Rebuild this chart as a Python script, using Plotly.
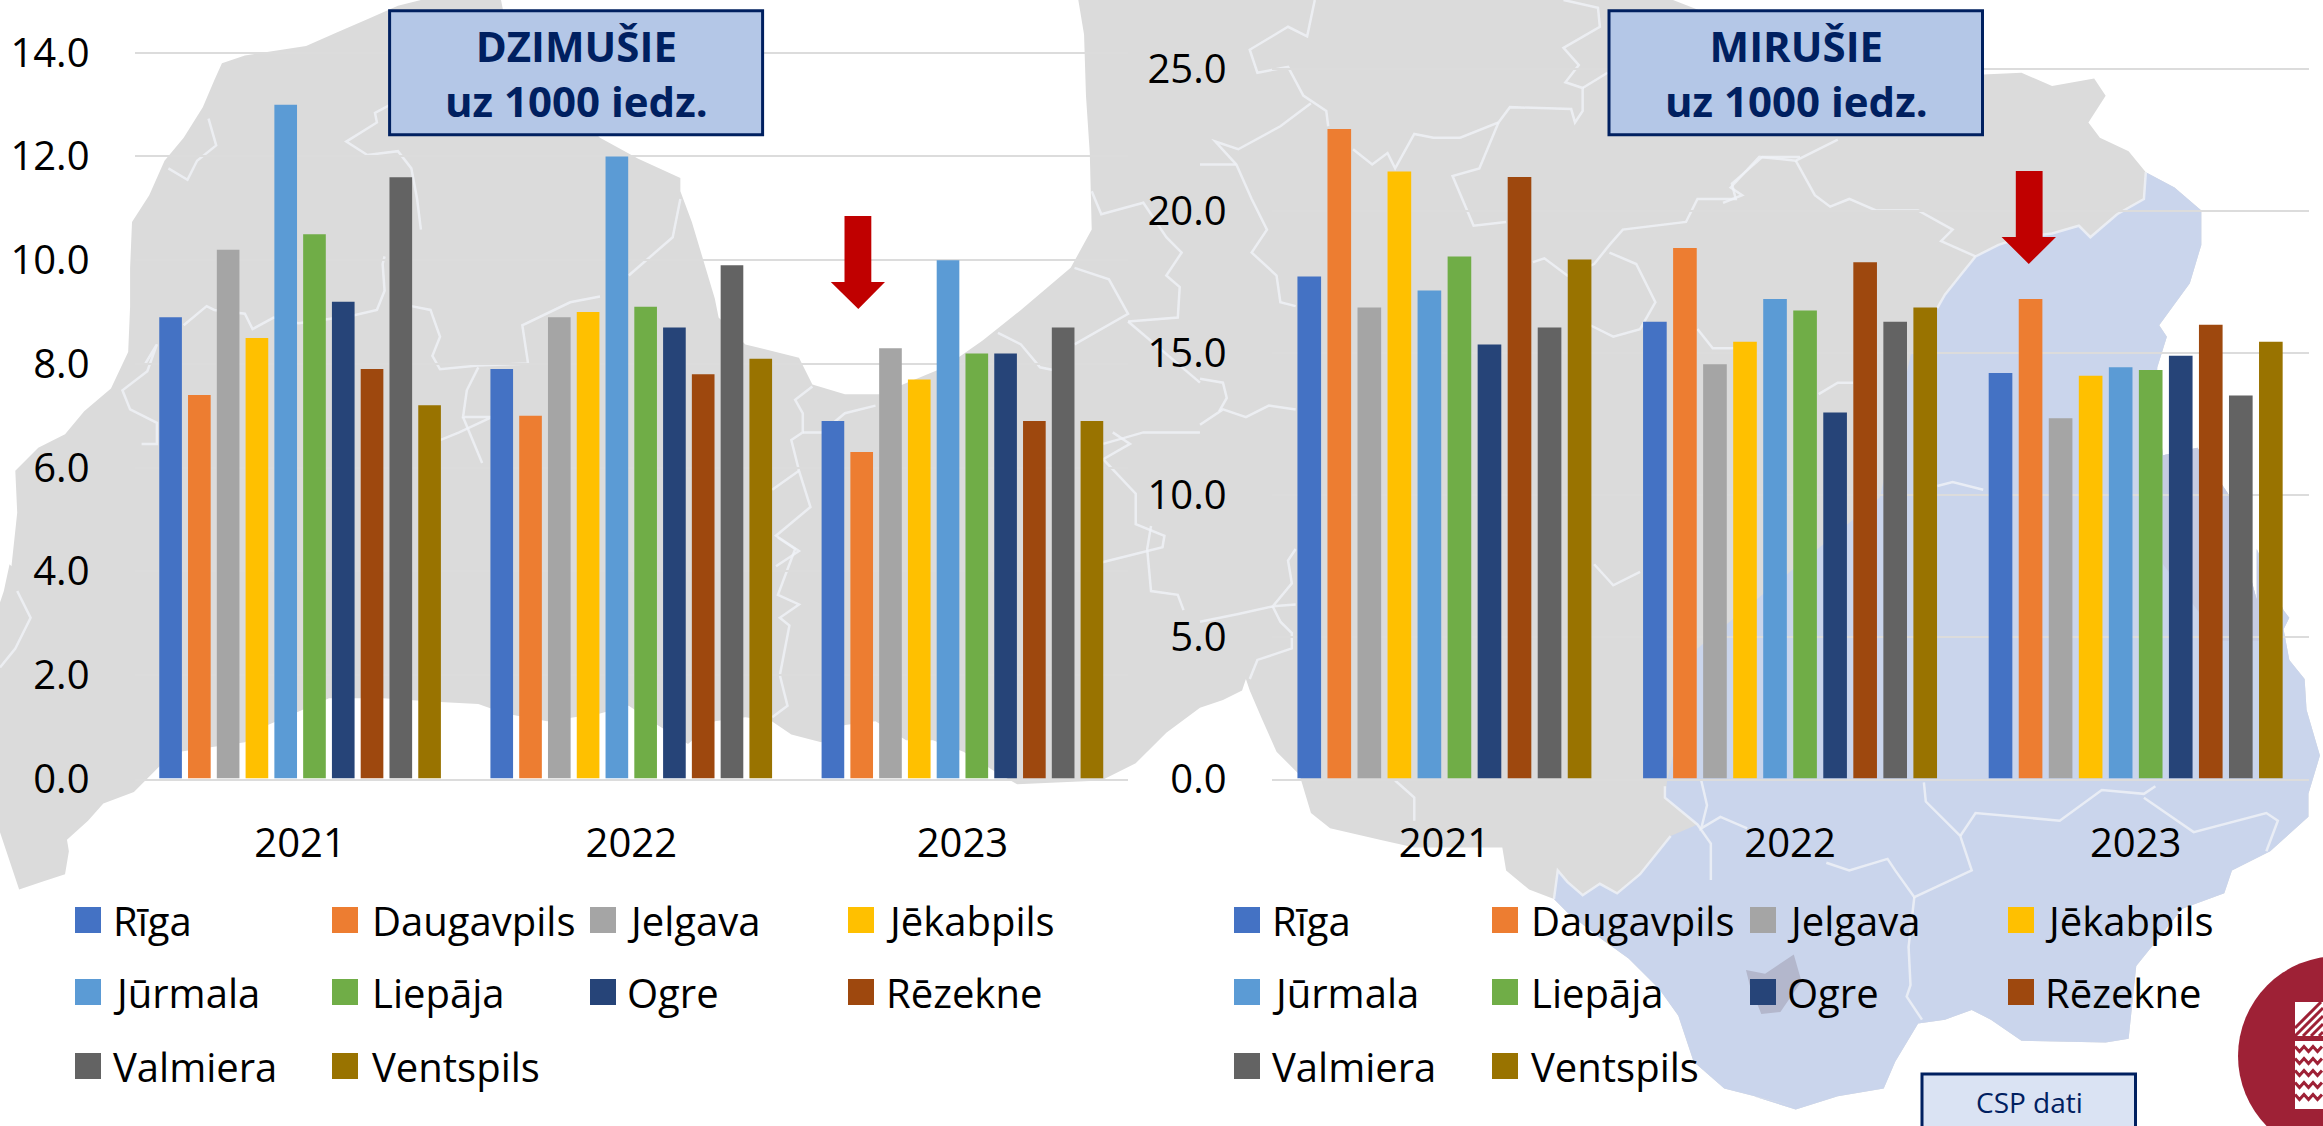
import plotly.graph_objects as go

W, H = 2323, 1126

# ---------- data ----------
cities = ["Rīga", "Daugavpils", "Jelgava", "Jēkabpils", "Jūrmala", "Liepāja", "Ogre", "Rēzekne", "Valmiera", "Ventspils"]
colors = ["#4472C4", "#ED7D31", "#A5A5A5", "#FFC000", "#5B9BD5", "#70AD47", "#264478", "#9E480E", "#636363", "#997300"]
years = ["2021", "2022", "2023"]

born_2021 = [8.9, 7.4, 10.2, 8.5, 13.0, 10.5, 9.2, 7.9, 11.6, 7.2]
born_2022 = [7.9, 7.0, 8.9, 9.0, 12.0, 9.1, 8.7, 7.8, 9.9, 8.1]
born_2023 = [6.9, 6.3, 8.3, 7.7, 10.0, 8.2, 8.2, 6.9, 8.7, 6.9]

died_2021 = [17.7, 22.9, 16.6, 21.4, 17.2, 18.4, 15.3, 21.2, 15.9, 18.3]
died_2022 = [16.1, 18.7, 14.6, 15.4, 16.9, 16.5, 12.9, 18.2, 16.1, 16.6]
died_2023 = [14.3, 16.9, 12.7, 14.2, 14.5, 14.4, 14.9, 16.0, 13.5, 15.4]

title_left = "DZIMUŠIE<br>uz 1000 iedz."
title_right = "MIRUŠIE<br>uz 1000 iedz."
source_label = "CSP dati"

FONT = "Open Sans"
NAVY = "#002060"


# ---------- helpers for decoration in pixel space ----------
def px(x, y):
    return x / W, 1 - y / H


def path(points, close=True):
    parts = []
    for i, (x, y) in enumerate(points):
        fx, fy = px(x, y)
        parts.append(f"{'M' if i == 0 else 'L'}{fx:.5f},{fy:.5f}")
    return " ".join(parts) + (" Z" if close else "")


def poly(points, fill, layer="below"):
    return dict(type="path", xref="paper", yref="paper", path=path(points),
                fillcolor=fill, line=dict(width=0), layer=layer)


def rect(x0, y0, x1, y1, fill, line=None, lw=0, layer="above"):
    fx0, fy0 = px(x0, y0)
    fx1, fy1 = px(x1, y1)
    return dict(type="rect", xref="paper", yref="paper", x0=fx0, y0=fy0, x1=fx1, y1=fy1,
                fillcolor=fill, line=dict(color=line or fill, width=lw), layer=layer)


S = 600 / 1568


def z(ox, oy, pts):
    return [(ox + a * S, oy + b * S) for a, b in pts]


C5, C6, C7, C8 = (0, 0), (0, 526), (600, 0), (600, 526)
C9, C10, C11, C12 = (1200, 0), (1200, 526), (1723, 0), (1723, 526)

east_coast = z(*C12, [(80, 1490), (190, 1525), (300, 1490), (420, 1470), (450, 1400), (510, 1300), (580, 1290),
                      (650, 1265), (700, 1290), (780, 1345), (1000, 1350), (1060, 1340), (1080, 1150), (1120, 1100),
                      (1200, 1000), (1310, 960), (1330, 900), (1430, 850), (1530, 760), (1530, 700), (1560, 600),
                      (1525, 480), (1520, 400), (1480, 350), (1465, 270), (1480, 240), (1465, 220), (1395, 60)])
east_upper = z(*C11, [(1395, 1568), (1320, 1290), (1240, 1170), (1150, 1190), (1130, 1050), (1135, 960), (1160, 880),
                      (1140, 850), (1220, 740), (1250, 640), (1250, 550), (1180, 490), (1105, 450)])
south_coast = z(*C10, [(925, 975), (960, 1010), (1050, 1080), (1120, 1130), (1200, 1210), (1250, 1280), (1290, 1400),
                       (1370, 1470), (1450, 1490), (1568, 1520)])

land = (
    z(*C5, [(1100, 0), (1040, 15), (960, 50), (880, 85), (800, 120), (640, 145), (580, 165), (560, 210), (530, 280),
            (480, 360), (430, 420), (390, 510), (345, 580), (340, 700), (340, 800), (335, 920), (290, 1015),
            (220, 1075), (170, 1135), (100, 1170), (40, 1230), (45, 1340), (30, 1480)])
    + z(*C6, [(25, 100), (10, 170), (0, 200), (0, 800), (50, 950), (110, 930), (170, 910), (180, 850), (175, 820),
              (230, 770), (270, 725), (350, 695), (415, 630), (470, 590), (640, 565), (700, 520), (860, 450),
              (1000, 450), (1150, 460), (1250, 465), (1320, 490), (1430, 510), (1568, 490)])
    + z(*C8, [(75, 470), (150, 520), (230, 570), (300, 510), (380, 500), (449, 510), (500, 545), (578, 565),
              (640, 520), (720, 510), (800, 560), (870, 560), (950, 590), (1030, 640), (1090, 675), (1310, 665),
              (1400, 620), (1480, 540), (1568, 475)])
    + z(*C10, [(60, 455), (110, 430), (120, 400), (130, 430), (160, 500), (200, 590), (260, 650), (290, 750),
               (340, 790), (470, 820), (560, 840), (790, 840), (800, 900), (860, 950)])
    + south_coast + east_coast + east_upper
    + z(*C11, [(1060, 395), (985, 360), (955, 320), (1000, 250), (970, 205), (860, 225), (780, 190), (680, 195)])
    + [(1850, 70), (1750, 30), (1673, 0)]
    + z(*C7, [(1250, 0), (1265, 90), (1270, 250), (1280, 400), (1285, 600), (1230, 700), (1100, 810), (1000, 890),
              (900, 960), (730, 1030), (640, 1030), (555, 1005), (520, 935), (380, 900), (310, 830), (300, 780),
              (270, 680), (240, 580), (210, 500), (210, 465), (100, 415), (0, 360)])
    + [(560, 100), (505, 20), (501, 0)]
)

border_blue_a = z(*C10, [(925, 975), (935, 900), (960, 930), (1000, 965), (1045, 935), (1090, 960), (1150, 910),
                         (1230, 810), (1300, 780), (1215, 710), (1220, 670), (1300, 320)])
border_blue_b = z(*C11, [(410, 1300), (490, 930), (560, 805), (580, 770), (620, 720), (660, 670), (720, 640),
                         (780, 620), (860, 610), (930, 590), (960, 620), (1030, 560), (1100, 520), (1105, 450)])
blue = (list(reversed(east_upper)) + list(reversed(east_coast)) + list(reversed(south_coast))
        + border_blue_a[1:] + border_blue_b)

patch = z(*C11, [(1150, 1190), (1240, 1170), (1320, 1290), (1395, 1568)]) + z(*C12, [(1395, 60), (1420, 300), (1300, 300), (1150, 100)])
ogre_area = z(*C12, [(60, 1160), (110, 1170), (185, 1120), (205, 1190), (150, 1270), (100, 1275), (70, 1200)])

borders = [
    z(*C5, [(545, 310), (565, 380), (515, 420), (490, 470), (440, 440)]),
    z(*C5, [(1018, 275), (980, 295), (985, 320), (905, 370), (960, 405), (1040, 395), (1075, 440), (1090, 520), (1100, 600)]),
    z(*C5, [(1005, 670), (1000, 690), (1005, 760), (985, 810), (920, 825), (780, 845), (715, 830), (660, 860), (640, 820), (560, 810), (540, 800), (480, 850)]),
    z(*C5, [(1075, 800), (1125, 810), (1150, 880), (1130, 930), (1150, 965), (1250, 955), (1380, 950), (1365, 850), (1490, 790), (1568, 775)]),
    z(*C5, [(1250, 960), (1220, 1020), (1210, 1090), (1285, 1090), (1200, 1130), (1150, 1150)]),
    z(*C5, [(1210, 1090), (1260, 1210)]),
    z(*C5, [(380, 950), (410, 900), (385, 970), (320, 1020), (340, 1070), (410, 1105), (410, 1160), (370, 1160)]),
    z(*C6, [(45, 170), (80, 240), (40, 320), (0, 370)]),
    z(*C7, [(210, 520), (190, 620), (75, 720)]),
    z(*C7, [(555, 1010), (510, 1045), (530, 1080), (530, 1130), (500, 1150), (520, 1230), (550, 1325), (460, 1400), (520, 1440), (460, 1480)]),
    z(*C8, [(465, 30), (510, 60), (465, 180), (520, 205), (470, 240), (495, 260), (470, 390), (490, 470), (450, 500)]),
    z(*C7, [(530, 1130), (580, 1130), (640, 1080), (720, 1060)]),
    z(*C7, [(450, 1280), (520, 1230)]),
    z(*C7, [(1040, 870), (1100, 900), (1150, 960), (1200, 970)]),
    z(*C7, [(1240, 700), (1330, 730), (1380, 820), (1240, 900)]),
    z(*C7, [(1380, 840), (1568, 1000)]),
    z(*C7, [(1285, 500), (1310, 560), (1420, 530), (1480, 620), (1520, 660), (1480, 720), (1515, 750), (1510, 830), (1380, 840)]),
    z(*C7, [(1315, 1160), (1420, 1130), (1568, 1130)]),
    z(*C7, [(1340, 1130), (1385, 1160), (1315, 1200), (1400, 1290), (1400, 1370), (1475, 1400), (1470, 1430), (1310, 1470)]),
    z(*C8, [(1440, 0), (1430, 60), (1440, 170), (1510, 180), (1525, 220)]),
    z(*C9, [(300, 0), (280, 95), (230, 70), (130, 130), (150, 190), (230, 175), (270, 250), (330, 290), (335, 330)]),
    z(*C9, [(290, 270), (210, 330), (100, 390), (40, 370), (95, 430), (135, 520), (175, 600), (135, 660), (200, 720), (210, 790), (250, 800)]),
    z(*C9, [(0, 430), (95, 430)]),
    z(*C9, [(400, 390), (450, 430), (490, 400), (510, 440), (560, 350), (610, 360), (680, 360), (780, 320), (810, 280), (970, 285), (980, 320), (1000, 290), (1000, 230), (955, 215), (990, 170), (950, 125), (1045, 70), (1040, 20), (950, 0)]),
    z(*C9, [(1000, 230), (1065, 190)]),
    z(*C9, [(780, 320), (730, 440), (660, 460), (715, 590), (800, 580)]),
    z(*C9, [(870, 685), (900, 675), (960, 720), (1030, 690), (1070, 640), (1105, 600), (1270, 580), (1300, 520), (1400, 520), (1390, 480), (1470, 410), (1568, 410)]),
    z(*C9, [(1070, 660), (1140, 690), (1190, 790), (1150, 860), (1080, 880), (1020, 850)]),
    z(*C9, [(1300, 860), (1340, 910), (1420, 910)]),
    z(*C9, [(0, 1110), (60, 1070), (120, 1090), (180, 1060), (250, 1070)]),
    z(*C9, [(0, 990), (60, 1000), (70, 1040), (50, 1075)]),
    z(*C10, [(250, 60), (230, 90), (240, 150), (190, 210), (250, 205)]),
    z(*C10, [(190, 210), (100, 230), (0, 250)]),
    z(*C10, [(190, 210), (210, 250), (240, 280), (240, 320), (150, 350), (130, 400)]),
    z(*C10, [(1030, 100), (1080, 155), (1150, 120)]),
    z(*C10, [(510, 665), (560, 710), (560, 770)]),
    z(*C10, [(1215, 680), (1215, 710), (1300, 780), (1335, 830), (1335, 925)]),
    z(*C10, [(1310, 665), (1325, 730), (1310, 790), (1360, 760), (1430, 790)]),
    z(*C11, [(0, 530), (50, 510), (20, 490), (95, 410), (190, 420), (300, 365)]),
    z(*C11, [(190, 420), (240, 510), (280, 540), (330, 520), (400, 550), (510, 550), (600, 600), (570, 630), (660, 670)]),
    z(*C11, [(250, 1030), (300, 1000), (340, 1000)]),
    z(*C11, [(560, 1270), (600, 1260), (680, 1280)]),
    z(*C12, [(525, 670), (530, 720), (620, 810), (650, 900), (500, 970), (450, 900), (430, 870), (330, 900), (270, 880)]),
    z(*C12, [(620, 810), (660, 750), (880, 770), (990, 690), (1100, 700), (1130, 680)]),
    z(*C12, [(1100, 710), (1230, 800), (1420, 750), (1450, 770), (1420, 850)]),
    z(*C12, [(500, 970), (485, 1100), (490, 1200), (480, 1230), (520, 1290)]),
    border_blue_a[:8],
    border_blue_b[2:],
]

shapes = [poly(land, "#DBDBDB"), poly(blue, "#CAD5EC"), poly(patch, "#C6CCE2"), poly(ogre_area, "#B3B7CC")]
for b in borders:
    shapes.append(dict(type="path", xref="paper", yref="paper", path=path(b, close=False),
                       line=dict(color="rgba(240,243,248,0.8)", width=2.5), layer="below"))

# ---------- title boxes, arrows, source box, logo ----------
shapes.append(rect(389.6, 10.7, 762.6, 134.7, "#B4C7E7", NAVY, 3))
shapes.append(rect(1609, 10.7, 1982.5, 134.7, "#B4C7E7", NAVY, 3))


def arrow(x0, x1, hx0, hx1, tipx, top, neck, tip):
    return poly([(x0, top), (x1, top), (x1, neck), (hx1, neck), (tipx, tip), (hx0, neck), (x0, neck)], "#C00000", "above")


shapes.append(arrow(844.5, 871.3, 830.8, 885, 858.3, 216, 282, 309))
shapes.append(arrow(2015.8, 2042.6, 2001.6, 2056, 2028.8, 171, 237, 264))
shapes.append(rect(1922, 1074, 2135.5, 1135, "#DAE3F3", NAVY, 3))

# logo: red disc with white hatch and wave blocks
fx0, fy0 = px(2238, 956)
fx1, fy1 = px(2438, 1156)
shapes.append(dict(type="circle", xref="paper", yref="paper", x0=fx0, y0=fy0, x1=fx1, y1=fy1,
                   fillcolor="#9E2136", line=dict(width=0), layer="above"))
shapes.append(rect(2295, 1002, 2323, 1036, "#FFFFFF"))
for i in range(-1, 7):
    sx = 2295 + i * 8
    shapes.append(dict(type="path", xref="paper", yref="paper", layer="above",
                       path=path([(max(sx, 2295), 1036 - max(2295 - sx, 0)), (min(sx + 34, 2323), 1002 + max(sx + 34 - 2323, 0))], close=False),
                       line=dict(color="#9E2136", width=3)))
shapes.append(rect(2295, 1041, 2323, 1109, "#FFFFFF"))
for wy in range(1049, 1106, 12):
    pts = [(2295 + k * 4.5, wy + (2.5 if k % 2 else -2.5)) for k in range(7)]
    shapes.append(dict(type="path", xref="paper", yref="paper", layer="above",
                       path=path(pts, close=False), line=dict(color="#9E2136", width=3)))

# ---------- bars ----------
fig = go.Figure()
for i, city in enumerate(cities):
    fig.add_trace(go.Bar(x=years, y=[born_2021[i], born_2022[i], born_2023[i]], name=city,
                         marker=dict(color=colors[i], line=dict(width=0)),
                         xaxis="x", yaxis="y", showlegend=False))
for i, city in enumerate(cities):
    fig.add_trace(go.Bar(x=years, y=[died_2021[i], died_2022[i], died_2023[i]], name=city,
                         marker=dict(color=colors[i], line=dict(width=0)),
                         xaxis="x2", yaxis="y2", showlegend=False))

# ---------- legends (square swatches) and texts ----------
annotations = []
leg_cols = {
    "l": ([75, 332, 590, 848], [111, 370, 625, 884]),
    "r": ([1234, 1492, 1750, 2008], [1270, 1529, 1785, 2043]),
}
leg_rows = [920, 992, 1066]
LEG_SIZE = 40
for side, (sw, tx) in leg_cols.items():
    for i, city in enumerate(cities):
        c, r = i % 4, i // 4
        yc = leg_rows[r]
        shapes.append(rect(sw[c], yc - 13, sw[c] + 26, yc + 13, colors[i]))
        fx, fy = px(tx[c], yc)
        annotations.append(dict(text=city, x=fx, y=fy, xref="paper", yref="paper", xanchor="left", yanchor="middle",
                                showarrow=False, font=dict(family=FONT, size=LEG_SIZE, color="#000000")))

for cx, label in ((576, title_left), (1796, title_right)):
    fx, fy = px(cx, 72.5)
    annotations.append(dict(text=label, x=fx, y=fy, xref="paper", yref="paper", xanchor="center", yanchor="middle",
                            showarrow=False, font=dict(family=FONT, size=42, color=NAVY, weight="bold")))
fx, fy = px(2029, 1102)
annotations.append(dict(text=source_label, x=fx, y=fy, xref="paper", yref="paper", xanchor="center", yanchor="middle",
                        showarrow=False, font=dict(family=FONT, size=28, color=NAVY)))

TICK = dict(family=FONT, size=40, color="#000000")
GRID = "#DCDCDC"


def xaxis(dom, anchor):
    return dict(domain=dom, anchor=anchor, type="category", categoryorder="array", categoryarray=years,
                showline=True, linecolor=GRID, linewidth=2, showgrid=False, ticks="", tickfont=TICK,
                ticklabelstandoff=28, automargin=False)


def yaxis(dom, anchor, rng, dt):
    return dict(domain=dom, anchor=anchor, range=rng, dtick=dt, tick0=0, tickformat=".1f", showgrid=True,
                gridcolor=GRID, gridwidth=2, zeroline=False, showline=False, ticks="", tickfont=TICK,
                ticklabelstandoff=44, automargin=False)


ydom = [1 - 778.6 / H, 1 - 50.8 / H]
ydom2 = [1 - 778.6 / H, 1 - 67.3 / H]
top14 = 14 * (778.6 - 50.8) / (778.6 - 52.8)
top25 = 25 * (778.6 - 67.3) / (778.6 - 69.3)

fig.update_layout(
    width=W, height=H, autosize=False,
    margin=dict(l=0, r=0, t=0, b=0),
    paper_bgcolor="#FFFFFF", plot_bgcolor="rgba(0,0,0,0)",
    barmode="group", bargap=0.131, bargroupgap=0.213,
    font=dict(family=FONT),
    xaxis=xaxis([134.5 / W, 1128 / W], "y"),
    yaxis=yaxis(ydom, "x", [0, top14], 2),
    xaxis2=xaxis([1271.6 / W, 2308.5 / W], "y2"),
    yaxis2=yaxis(ydom2, "x2", [0, top25], 5),
    shapes=shapes,
    annotations=annotations,
)

fig.write_html("out.html", config={"displayModeBar": False},
               post_script="document.body.style.margin='0';document.body.style.overflow='hidden';")
